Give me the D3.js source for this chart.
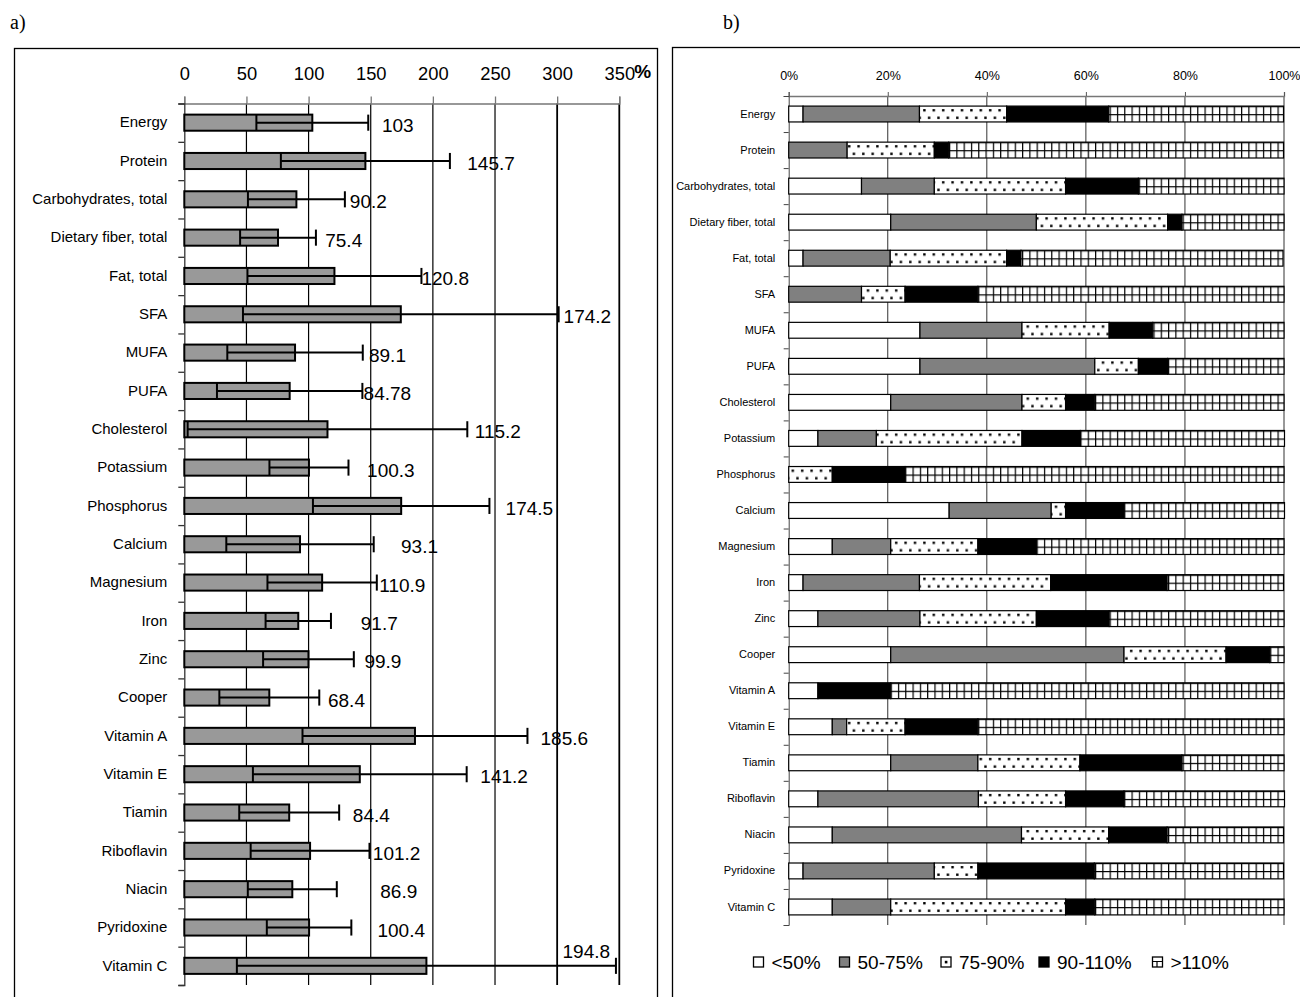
<!DOCTYPE html>
<html>
<head>
<meta charset="utf-8">
<script src="https://cdn.jsdelivr.net/npm/d3@7"></script>
<style>
  body { margin: 0; background: #fff; }
  svg { display: block; }
</style>
</head>
<body>
<div id="chart"></div>
<script>
// categories (same for both panels)
var nutrients = ["Energy", "Protein", "Carbohydrates, total", "Dietary fiber, total", "Fat, total",
  "SFA", "MUFA", "PUFA", "Cholesterol", "Potassium", "Phosphorus", "Calcium", "Magnesium",
  "Iron", "Zinc", "Cooper", "Vitamin A", "Vitamin E", "Tiamin", "Riboflavin", "Niacin",
  "Pyridoxine", "Vitamin C"];

// panel a) mean realisation (%) and standard deviation
var meanValues = [103, 145.7, 90.2, 75.4, 120.8, 174.2, 89.1, 84.78, 115.2, 100.3, 174.5, 93.1,
  110.9, 91.7, 99.9, 68.4, 185.6, 141.2, 84.4, 101.2, 86.9, 100.4, 194.8];
var sdValues = [45, 68, 39, 30.5, 70, 127, 54.5, 58.5, 112.5, 31.8, 71, 59.3,
  44, 26.3, 36.5, 40.2, 90.5, 86, 40.2, 47.8, 35.8, 34, 152.5];
var ticksA = [0, 50, 100, 150, 200, 250, 300, 350];

// panel b) share of people (%) in each realisation class
var classLabels = ["<50%", "50-75%", "75-90%", "90-110%", ">110%"];
var below50 = [2.9, 0, 14.7, 20.6, 2.9, 0, 26.5, 26.5, 20.6, 5.9, 0, 32.4, 8.8, 2.9, 5.9, 20.6,
  5.9, 8.8, 20.6, 5.9, 8.8, 2.9, 8.8];
var from50to75 = [23.5, 11.8, 14.7, 29.4, 17.6, 14.7, 20.6, 35.3, 26.5, 11.8, 0, 20.6, 11.8, 23.5,
  20.6, 47.1, 0, 2.9, 17.6, 32.4, 38.2, 26.5, 11.8];
var from75to90 = [17.6, 17.6, 26.5, 26.5, 23.5, 8.8, 17.6, 8.8, 8.8, 29.4, 8.8, 2.9, 17.6, 26.5,
  23.5, 20.6, 0, 11.8, 20.6, 17.6, 17.6, 8.8, 35.3];
var from90to110 = [20.6, 2.9, 14.7, 2.9, 2.9, 14.7, 8.8, 5.9, 5.9, 11.8, 14.7, 11.8, 11.8, 23.5,
  14.7, 8.8, 14.7, 14.7, 20.6, 11.8, 11.8, 23.5, 5.9];
var above110 = [35.3, 67.6, 29.4, 20.6, 52.9, 61.8, 26.5, 23.5, 38.2, 41.2, 76.5, 32.4, 50, 23.5,
  35.3, 2.9, 79.4, 61.8, 20.6, 32.4, 23.5, 38.2, 38.2];
var ticksB = [0, 20, 40, 60, 80, 100];

var svgWidth = 1300;
var svgHeight = 997;
var sans = "'Liberation Sans', Arial, sans-serif";
var serif = "'Liberation Serif', 'Times New Roman', serif";

var svg = d3.select("#chart")
  .append("svg")
  .attr("width", svgWidth)
  .attr("height", svgHeight)
  .style("font-family", sans);

// fill patterns for panel b
var defs = svg.append("defs");

var dots = defs.append("pattern")
  .attr("id", "dots")
  .attr("patternUnits", "userSpaceOnUse")
  .attr("width", 9.4)
  .attr("height", 16);
dots.append("rect").attr("width", 9.4).attr("height", 16).attr("fill", "#fff");
dots.append("rect").attr("x", 2).attr("y", 3).attr("width", 2.4).attr("height", 2.4).attr("fill", "#000");
dots.append("rect").attr("x", 6.7).attr("y", 10.5).attr("width", 2.4).attr("height", 2.4).attr("fill", "#000");

var grid = defs.append("pattern")
  .attr("id", "grid")
  .attr("patternUnits", "userSpaceOnUse")
  .attr("width", 7.3)
  .attr("height", 8);
grid.append("rect").attr("width", 7.3).attr("height", 8).attr("fill", "#fff");
grid.append("rect").attr("width", 1.2).attr("height", 8).attr("fill", "#000");
grid.append("rect").attr("width", 7.3).attr("height", 1.2).attr("fill", "#000");

// panel frames and letters
svg.append("rect")
  .attr("x", 14.5).attr("y", 48.5)
  .attr("width", 643).attr("height", 980)
  .attr("fill", "none").attr("stroke", "#000").attr("stroke-width", 1.3);

svg.append("rect")
  .attr("x", 672.5).attr("y", 47.5)
  .attr("width", 700).attr("height", 980)
  .attr("fill", "none").attr("stroke", "#000").attr("stroke-width", 1.3);

svg.append("text").attr("x", 10).attr("y", 29)
  .style("font-family", serif).attr("font-size", "20px").text("a)");
svg.append("text").attr("x", 723).attr("y", 29)
  .style("font-family", serif).attr("font-size", "20px").text("b)");

// ---------- panel a ----------
var xA = d3.scaleLinear().domain([0, 350]).range([184.3, 619.3]);
var yA = d3.scaleBand().domain(nutrients).range([103.5, 985]);
var barA = yA.bandwidth() * 0.42;

var gA = svg.append("g");

// grid lines
gA.selectAll(".gridA")
  .data(ticksA.slice(1))
  .enter()
  .append("line")
  .attr("x1", d => xA(d)).attr("x2", d => xA(d))
  .attr("y1", 103.5).attr("y2", 985)
  .attr("stroke", "#000")
  .attr("stroke-width", d => d >= 300 ? 1.8 : 1.2);

// top axis
var topA = gA.append("g")
  .attr("transform", "translate(0,103.5)")
  .call(d3.axisTop(xA).tickValues(ticksA).tickSize(7).tickPadding(16.5));
topA.select(".domain").attr("stroke", "#777").attr("stroke-width", 1.3);
topA.selectAll(".tick line").attr("stroke", "#777").attr("stroke-width", 1.3);
topA.selectAll(".tick text").attr("font-size", "19px").attr("fill", "#000").style("font-family", sans)
  .attr("textLength", d => String(d).length * 10.2).attr("lengthAdjust", "spacingAndGlyphs");

gA.append("text")
  .attr("x", xA(350) + 15)
  .attr("y", 78)
  .attr("font-size", "19px")
  .attr("font-weight", "bold")
  .text("%");

// left axis: boundary ticks + category names
var idxA = d3.scaleLinear().domain([0, nutrients.length]).range([103.5, 985]);
var leftA = gA.append("g")
  .attr("transform", `translate(${xA(0)},0)`)
  .call(d3.axisLeft(idxA).tickValues(d3.range(nutrients.length + 1)).tickSize(6).tickFormat(""));
leftA.selectAll("path, line").attr("stroke", "#333").attr("stroke-width", 1.3);

var namesA = gA.append("g")
  .attr("transform", `translate(${xA(0)},0)`)
  .call(d3.axisLeft(yA).tickSize(0).tickPadding(17));
namesA.select(".domain").remove();
namesA.selectAll("text").attr("font-size", "15px").attr("fill", "#000").style("font-family", sans);

var rowsA = nutrients.map((n, i) => ({ name: n, mean: meanValues[i], sd: sdValues[i] }));

// bars
gA.selectAll(".barA")
  .data(rowsA)
  .enter()
  .append("rect")
  .attr("x", xA(0))
  .attr("y", d => yA(d.name) + (yA.bandwidth() - barA) / 2)
  .attr("width", d => xA(d.mean) - xA(0))
  .attr("height", barA)
  .attr("fill", "#999")
  .attr("stroke", "#000")
  .attr("stroke-width", 2);

// error bars (mean - sd .. mean + sd)
var errA = gA.selectAll(".errA")
  .data(rowsA)
  .enter()
  .append("g")
  .attr("transform", d => `translate(0,${yA(d.name) + yA.bandwidth() / 2})`);

errA.append("line")
  .attr("x1", d => xA(d.mean - d.sd)).attr("x2", d => xA(d.mean + d.sd))
  .attr("y1", 0).attr("y2", 0)
  .attr("stroke", "#000").attr("stroke-width", 2);
errA.append("line")
  .attr("x1", d => xA(d.mean - d.sd)).attr("x2", d => xA(d.mean - d.sd))
  .attr("y1", -barA / 2).attr("y2", barA / 2)
  .attr("stroke", "#000").attr("stroke-width", 2);
errA.append("line")
  .attr("x1", d => xA(d.mean + d.sd)).attr("x2", d => xA(d.mean + d.sd))
  .attr("y1", -barA / 2).attr("y2", barA / 2)
  .attr("stroke", "#000").attr("stroke-width", 2);

// value labels were hand placed in the original, gap after the whisker (in % units)
var labelGap = [11, 14, 4, 7.5, 0, 4, 5, 1, 6, 15, 13, 22, 2, 24, 8.5, 7, 10.5, 11, 11, 2.7, 35, 21, -43];
errA.append("text")
  .attr("x", (d, i) => xA(d.mean + d.sd + labelGap[i]))
  .attr("y", (d, i) => i === nutrients.length - 1 ? -8 : 9)
  .attr("font-size", "19px")
  .text(d => d.mean);

// ---------- panel b ----------
var xB = d3.scaleLinear().domain([0, 100]).range([788.7, 1284]);
var yB = d3.scaleBand().domain(nutrients).range([96, 925]);
var barB = yB.bandwidth() * 0.44;

var gB = svg.append("g");

gB.selectAll(".gridB")
  .data(ticksB.slice(1))
  .enter()
  .append("line")
  .attr("x1", d => xB(d)).attr("x2", d => xB(d))
  .attr("y1", 96).attr("y2", 925)
  .attr("stroke", "#333")
  .attr("stroke-width", 1);

var topB = gB.append("g")
  .attr("transform", "translate(0,96)")
  .call(d3.axisTop(xB).tickValues(ticksB).tickSize(4).tickPadding(12.5).tickFormat(d => d + "%"));
topB.select(".domain").attr("stroke", "#777").attr("stroke-width", 1.3);
topB.selectAll(".tick line").attr("stroke", "#555");
topB.selectAll(".tick text").attr("font-size", "12.5px").attr("fill", "#000").style("font-family", sans);

var idxB = d3.scaleLinear().domain([0, nutrients.length]).range([96, 925]);
var leftB = gB.append("g")
  .attr("transform", `translate(${xB(0)},0)`)
  .call(d3.axisLeft(idxB).tickValues(d3.range(nutrients.length + 1)).tickSize(5).tickFormat(""));
leftB.selectAll("path, line").attr("stroke", "#444");

var namesB = gB.append("g")
  .attr("transform", `translate(${xB(0)},0)`)
  .call(d3.axisLeft(yB).tickSize(0).tickPadding(13.5));
namesB.select(".domain").remove();
namesB.selectAll("text").attr("font-size", "11px").attr("fill", "#000").style("font-family", sans);

// stacked shares
var classKeys = ["c0", "c1", "c2", "c3", "c4"];
var classFills = ["#fff", "#808080", "url(#dots)", "#000", "url(#grid)"];
var tableB = nutrients.map((n, i) => ({
  name: n, c0: below50[i], c1: from50to75[i], c2: from75to90[i], c3: from90to110[i], c4: above110[i]
}));
var stackedB = d3.stack().keys(classKeys)(tableB);

var rowsB = gB.selectAll(".rowB")
  .data(tableB)
  .enter()
  .append("g")
  .attr("transform", d => `translate(0,${yB(d.name) + (yB.bandwidth() - barB) / 2})`);

rowsB.each(function(row, i) {
  var segs = stackedB.map((s, k) => ({ x0: s[i][0], x1: s[i][1], fill: classFills[k] }))
    .filter(s => s.x1 - s.x0 > 0);
  d3.select(this).selectAll("rect")
    .data(segs)
    .enter()
    .append("rect")
    .attr("x", s => xB(s.x0))
    .attr("y", 0)
    .attr("width", s => xB(s.x1) - xB(s.x0))
    .attr("height", barB)
    .attr("fill", s => s.fill)
    .attr("stroke", "#000")
    .attr("stroke-width", 1.2);
});

// legend
var legendX = [753.5, 839.5, 941, 1039, 1152.5];
var legend = gB.selectAll(".legendB")
  .data(classLabels)
  .enter()
  .append("g")
  .attr("transform", (d, i) => `translate(${legendX[i]},957)`);

legend.append("rect")
  .attr("width", 10).attr("height", 10)
  .attr("fill", (d, i) => i === 1 ? "#808080" : i === 3 ? "#000" : "#fff")
  .attr("stroke", "#000").attr("stroke-width", 1.3);
legend.filter((d, i) => i === 2).append("rect")
  .attr("x", 3.8).attr("y", 3.8).attr("width", 2.6).attr("height", 2.6).attr("fill", "#000");
legend.filter((d, i) => i === 4).append("path")
  .attr("d", "M0,4.5H10M4.5,4.5V10")
  .attr("stroke", "#000").attr("stroke-width", 1.2);

legend.append("text")
  .attr("x", 18)
  .attr("y", 11.5)
  .attr("font-size", "19px")
  .text(d => d);
</script>
</body>
</html>
